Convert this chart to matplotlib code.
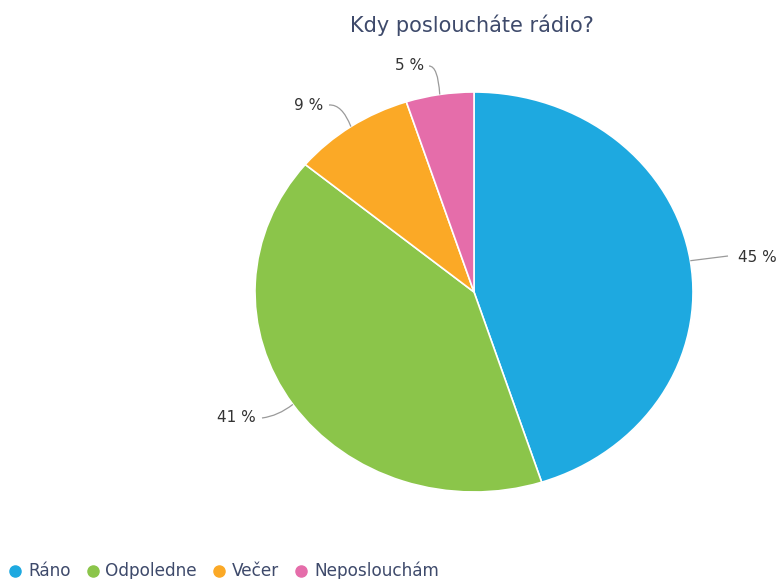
import matplotlib
matplotlib.use("Agg")
import matplotlib.pyplot as plt
import numpy as np
from matplotlib.path import Path
from matplotlib.patches import PathPatch
from matplotlib.lines import Line2D

plt.rcParams["font.family"] = ["DejaVu Sans"]

title = "Kdy posloucháte rádio?"
categories = ["Ráno", "Odpoledne", "Večer", "Neposlouchám"]
values = [45, 41, 9, 5]
colors = ["#1ea9e0", "#8bc54a", "#fba926", "#e56daa"]

W, H = 778, 579
fig = plt.figure(figsize=(W / 100, H / 100), dpi=100)

# pie ellipse in pixels: centre (474, 292), radii 219 x 200
cx, cy, rx, ry = 474, 292, 219, 200
ax = fig.add_axes([(cx - rx) / W, (H - cy - ry) / H, 2 * rx / W, 2 * ry / H])
wedges, _ = ax.pie(values, colors=colors, startangle=90, counterclock=False,
                   wedgeprops=dict(edgecolor="white", linewidth=1.2))
ax.set_aspect("auto")
ax.set_xlim(-1, 1)
ax.set_ylim(-1, 1)
ax.axis("off")

text_color = "#333333"
conn_color = "#9a9a9a"

def to_data(px, py):
    return (px - cx) / rx, (cy - py) / ry

# label placement (pixel anchors) and connector bend points
label_layout = [
    dict(text_anchor=(738, 258), ha="left", start=(728, 256), bend=(712, 258)),
    dict(text_anchor=(256, 418), ha="right", start=(262, 418), bend=(278, 416)),
    dict(text_anchor=(323, 105), ha="right", start=(329, 105), bend=(342, 104)),
    dict(text_anchor=(424, 66), ha="right", start=(429, 66), bend=(438, 66)),
]

angle = 90.0
for v, lay in zip(values, label_layout):
    span = 360.0 * v / sum(values)
    mid = np.deg2rad(angle - span / 2)
    angle -= span
    ex, ey = np.cos(mid), np.sin(mid)
    tx, ty = to_data(*lay["text_anchor"])
    ax.text(tx, ty, f"{v} %", ha=lay["ha"], va="center", fontsize=11,
            color=text_color, clip_on=False)
    p0 = to_data(*lay["start"])
    p1 = to_data(*lay["bend"])
    path = Path([p0, p1, (ex, ey)], [Path.MOVETO, Path.CURVE3, Path.CURVE3])
    ax.add_patch(PathPatch(path, facecolor="none", edgecolor=conn_color,
                           linewidth=0.9, clip_on=False))

fig.text(472 / W, 1 - 25 / H, title, ha="center", va="center",
         fontsize=15, color="#3e4a6b")

# legend row along the bottom edge
fig.canvas.draw()
renderer = fig.canvas.get_renderer()
x = 15
ly = 1 - 571 / H
for cat, col in zip(categories, colors):
    fig.add_artist(Line2D([x / W], [ly], marker="o", markersize=8,
                          color=col, linestyle="none",
                          transform=fig.transFigure))
    t = fig.text((x + 13) / W, ly, cat, ha="left", va="center",
                 fontsize=12.2, color="#3e4a6b")
    bb = t.get_window_extent(renderer)
    x = bb.x1 + 22

fig.savefig("out.png", dpi=100, facecolor="white")
